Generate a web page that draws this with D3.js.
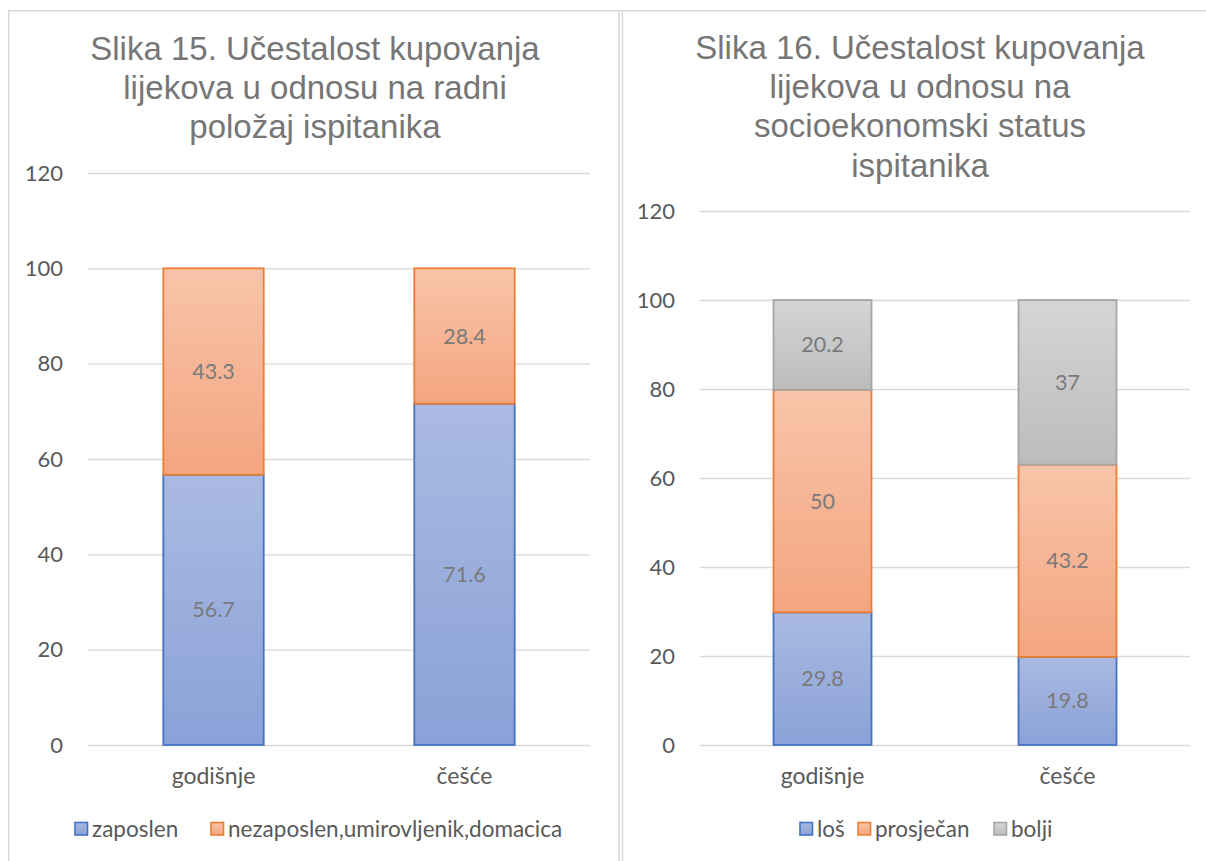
<!DOCTYPE html>
<html><head><meta charset="utf-8">
<script src="https://cdn.jsdelivr.net/npm/d3@7"></script>
<style>
html,body{margin:0;padding:0;background:#fff;}
svg{display:block;}
</style>
</head><body>
<svg id="c" width="1206" height="861"></svg>
<script>
// ---- data ----
const categories = ["godišnje", "češće"];
const yTicks = [0, 20, 40, 60, 80, 100, 120];

const title1 = ["Slika 15. Učestalost kupovanja", "lijekova u odnosu na radni", "položaj ispitanika"];
const series1Names = ["zaposlen", "nezaposlen,umirovljenik,domacica"];
const zaposlen = [56.7, 71.6];
const nezaposlen = [43.3, 28.4];

const title2 = ["Slika 16. Učestalost kupovanja", "lijekova u odnosu na", "socioekonomski status", "ispitanika"];
const series2Names = ["loš", "prosječan", "bolji"];
const los = [29.8, 19.8];
const prosjecan = [50, 43.2];
const bolji = [20.2, 37];

// ---- styles ----
const palette = {
  blue:   {top: "#aabae1", bottom: "#8aa2d8", stroke: "#4472c4"},
  orange: {top: "#f8c4aa", bottom: "#f4a57f", stroke: "#ed7d31"},
  gray:   {top: "#d5d5d5", bottom: "#bcbcbc", stroke: "#a5a5a5"}
};
const labelFont = "Lato, 'Open Sans', sans-serif";
const titleFont = "'Liberation Sans', Arial, sans-serif";

const svg = d3.select("#c");
svg.append("rect").attr("width", 1206).attr("height", 861).attr("fill", "#fff");

const defs = svg.append("defs");
Object.entries(palette).forEach(([k, p]) => {
  const g = defs.append("linearGradient").attr("id", "g-" + k)
    .attr("x1", 0).attr("y1", 0).attr("x2", 0).attr("y2", 1);
  g.append("stop").attr("offset", "0%").attr("stop-color", p.top);
  g.append("stop").attr("offset", "100%").attr("stop-color", p.bottom);
});

// frames
const frame = svg.append("g").attr("fill", "none").attr("stroke", "#d9d9d9").attr("stroke-width", 1.5);
frame.append("line").attr("x1", 8.75).attr("y1", 10.75).attr("x2", 8.75).attr("y2", 861);
frame.append("line").attr("x1", 8).attr("y1", 10.75).attr("x2", 1206).attr("y2", 10.75);
frame.append("line").attr("x1", 619).attr("y1", 10).attr("x2", 619).attr("y2", 861);
frame.append("line").attr("x1", 622.5).attr("y1", 10).attr("x2", 622.5).attr("y2", 861);

function drawChart(cfg) {
  const g = svg.append("g");
  const x = d3.scaleBand().domain(categories).range([cfg.left, cfg.right]).paddingInner(0.6).paddingOuter(0.3);
  const y = d3.scaleLinear().domain([0, 120]).range([cfg.bottom, cfg.top]);

  // title
  const t = g.append("text").attr("text-anchor", "middle")
    .attr("font-family", titleFont).attr("font-size", 33).attr("fill", "#767676");
  cfg.title.forEach((line, i) => {
    t.append("tspan").attr("x", cfg.titleX).attr("y", cfg.titleY + i * 39.2).text(line);
  });

  // grid
  const yAxis = d3.axisLeft(y).tickValues(yTicks).tickSize(-(cfg.right - cfg.left)).tickPadding(25);
  const ya = g.append("g").attr("transform", `translate(${cfg.left},0)`).call(yAxis);
  ya.select(".domain").remove();
  ya.selectAll(".tick line").attr("stroke", "#d9d9d9").attr("stroke-width", 1.3);
  ya.selectAll(".tick text").attr("font-family", labelFont).attr("font-size", 22).attr("fill", "#595959");

  const xAxis = d3.axisBottom(x).tickSize(0).tickPadding(23);
  const xa = g.append("g").attr("transform", `translate(0,${cfg.bottom})`).call(xAxis);
  xa.select(".domain").remove();
  xa.selectAll(".tick text").attr("font-family", labelFont).attr("font-size", 23).attr("fill", "#595959");

  // stacked bars
  const rows = categories.map((c, i) => {
    const o = {cat: c};
    cfg.series.forEach(s => o[s.name] = s.values[i]);
    return o;
  });
  const stack = d3.stack().keys(cfg.series.map(s => s.name))(rows);
  stack.forEach((layer, li) => {
    const p = palette[cfg.series[li].color];
    const lg = g.append("g");
    lg.selectAll("rect").data(layer).join("rect")
      .attr("x", d => x(d.data.cat))
      .attr("y", d => y(d[1]))
      .attr("width", x.bandwidth())
      .attr("height", d => y(d[0]) - y(d[1]))
      .attr("fill", "url(#g-" + cfg.series[li].color + ")")
      .attr("stroke", p.stroke).attr("stroke-width", 1.8);
    lg.selectAll("text").data(layer).join("text")
      .attr("x", d => x(d.data.cat) + x.bandwidth() / 2)
      .attr("y", d => (y(d[0]) + y(d[1])) / 2)
      .attr("dy", "0.35em").attr("text-anchor", "middle")
      .attr("font-family", labelFont).attr("font-size", 21.5).attr("fill", "#7a7a7a")
      .text(d => d[1] - d[0] === Math.round(d[1] - d[0]) ? String(Math.round(d[1] - d[0])) : (d[1] - d[0]).toFixed(1));
  });

  // legend
  const lgd = g.append("g");
  cfg.series.forEach((s, i) => {
    const p = palette[s.color];
    const lx = cfg.legendX[i];
    lgd.append("rect").attr("x", lx).attr("y", cfg.legendY - 6.5).attr("width", 12.5).attr("height", 12.5)
      .attr("fill", "url(#g-" + s.color + ")").attr("stroke", p.stroke).attr("stroke-width", 1.6);
    lgd.append("text").attr("x", lx + 17).attr("y", cfg.legendY).attr("dy", "0.35em")
      .attr("font-family", labelFont).attr("font-size", 22.5).attr("fill", "#595959").text(s.name);
  });
}

drawChart({
  left: 88, right: 590, top: 173, bottom: 745,
  title: title1, titleX: 315, titleY: 60,
  series: [
    {name: series1Names[0], values: zaposlen, color: "blue"},
    {name: series1Names[1], values: nezaposlen, color: "orange"}
  ],
  legendX: [75, 211], legendY: 829
});

drawChart({
  left: 700, right: 1190, top: 211, bottom: 745,
  title: title2, titleX: 920, titleY: 59,
  series: [
    {name: series2Names[0], values: los, color: "blue"},
    {name: series2Names[1], values: prosjecan, color: "orange"},
    {name: series2Names[2], values: bolji, color: "gray"}
  ],
  legendX: [800, 858, 994], legendY: 829
});
</script>
</body></html>
